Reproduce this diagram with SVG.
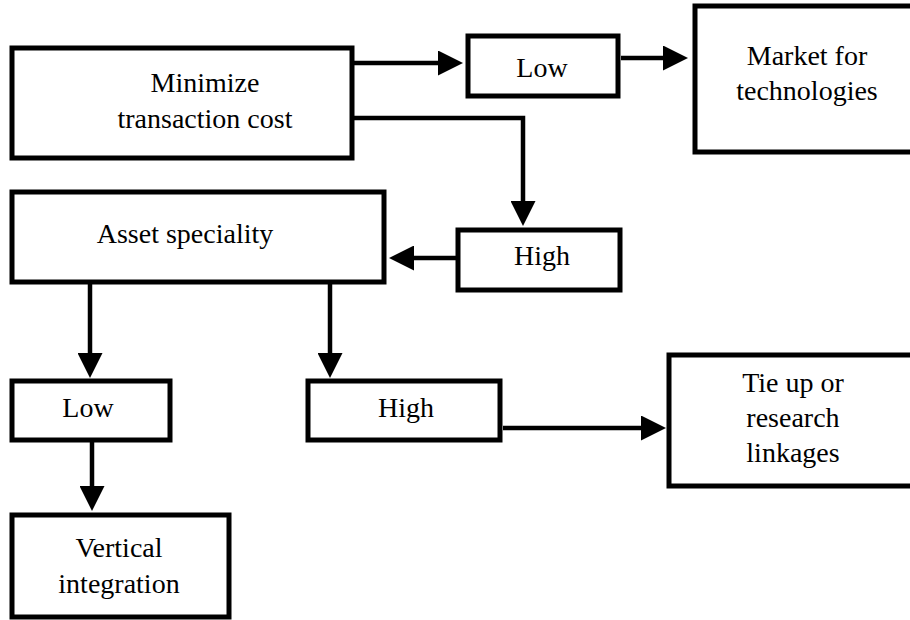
<svg xmlns="http://www.w3.org/2000/svg" width="910" height="620" viewBox="0 0 910 620" font-family="Liberation Serif, Times New Roman, DejaVu Serif, serif">
  <style>
    .box { fill: #ffffff; stroke: #000000; stroke-width: 5; }
    .lbl { font-size: 28px; fill: #000000; text-anchor: middle; }
    .edge { fill: none; stroke: #000000; stroke-width: 4.5; }
  </style>
  <defs>
    <marker id="head" viewBox="0 0 25 25" refX="0" refY="12.5" markerWidth="25" markerHeight="25" markerUnits="userSpaceOnUse" orient="auto">
      <path d="M0,0 L25,12.5 L0,25 Z" fill="#000000"/>
    </marker>
  </defs>
  <rect width="910" height="620" fill="#ffffff"/>

  <!-- connectors -->
  <g id="connectors">
    <path class="edge" d="M354,63 H438" marker-end="url(#head)"/>
    <path class="edge" d="M621,58 H663" marker-end="url(#head)"/>
    <path class="edge" d="M354,118 H523 V201" marker-end="url(#head)"/>
    <path class="edge" d="M458,258 H414" marker-end="url(#head)"/>
    <path class="edge" d="M90,282 V353" marker-end="url(#head)"/>
    <path class="edge" d="M330,282 V353" marker-end="url(#head)"/>
    <path class="edge" d="M503,428 H641" marker-end="url(#head)"/>
    <path class="edge" d="M92,440 V486" marker-end="url(#head)"/>
  </g>

  <!-- nodes -->
  <g id="minimize">
    <rect class="box" x="12" y="48" width="340" height="110"/>
    <text class="lbl" x="205" y="92" font-family="Liberation Serif, serif">Minimize</text>
    <text class="lbl" x="205" y="128" font-family="Liberation Serif, serif">transaction cost</text>
  </g>
  <g id="low-cost">
    <rect class="box" x="468" y="36" width="150" height="60"/>
    <text class="lbl" x="542" y="77">Low</text>
  </g>
  <g id="market">
    <rect class="box" x="695" y="6" width="230" height="146"/>
    <text class="lbl" x="807" y="65">Market for</text>
    <text class="lbl" x="807" y="100">technologies</text>
  </g>
  <g id="high-cost">
    <rect class="box" x="458" y="230" width="162" height="60"/>
    <text class="lbl" x="542" y="265">High</text>
  </g>
  <g id="asset">
    <rect class="box" x="12" y="192" width="372" height="90"/>
    <text class="lbl" x="185" y="243">Asset speciality</text>
  </g>
  <g id="low-asset">
    <rect class="box" x="12" y="381" width="158" height="59"/>
    <text class="lbl" x="88" y="417">Low</text>
  </g>
  <g id="high-asset">
    <rect class="box" x="308" y="381" width="192" height="59"/>
    <text class="lbl" x="406" y="417">High</text>
  </g>
  <g id="tie-up">
    <rect class="box" x="669" y="355" width="260" height="131"/>
    <text class="lbl" x="793" y="392">Tie up or</text>
    <text class="lbl" x="793" y="427">research</text>
    <text class="lbl" x="793" y="462">linkages</text>
  </g>
  <g id="vertical">
    <rect class="box" x="12" y="515" width="217" height="102"/>
    <text class="lbl" x="119" y="557">Vertical</text>
    <text class="lbl" x="119" y="593">integration</text>
  </g>
</svg>
